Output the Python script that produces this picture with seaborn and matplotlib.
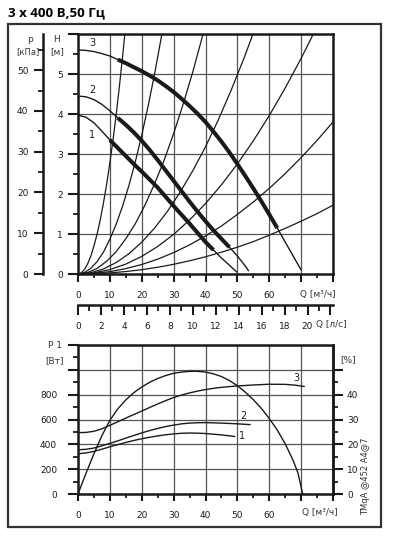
import numpy as np
import pandas as pd
import matplotlib
matplotlib.use('Agg')
import matplotlib.pyplot as plt
import seaborn as sns
from matplotlib.patches import Rectangle
from matplotlib.ticker import MultipleLocator, FuncFormatter

sns.set_theme(style='ticks')
plt.rcParams['font.family'] = ['Liberation Sans Narrow', 'DejaVu Sans']

# --- data ---
# pump curves H(Q), Q in m3/h, H in m
q1 = [0, 2.5, 5, 7.5, 10, 12.5, 15, 17.5, 20, 22.5, 25, 27.5, 30, 32.5, 35, 37.5, 40, 42.5, 45, 47.5, 49.8]
h1 = [3.97, 3.92, 3.78, 3.57, 3.35, 3.15, 2.95, 2.75, 2.56, 2.36, 2.16, 1.93, 1.7, 1.48, 1.26, 1.03, 0.8, 0.6, 0.4, 0.22, 0.05]
q2 = [0, 2.5, 5, 7.5, 10, 12.5, 15, 17.5, 20, 22.5, 25, 27.5, 30, 32.5, 35, 37.5, 40, 42.5, 45, 47.5, 50, 52.5, 53.5]
h2 = [4.45, 4.43, 4.36, 4.24, 4.08, 3.9, 3.73, 3.54, 3.33, 3.1, 2.85, 2.59, 2.33, 2.07, 1.81, 1.56, 1.32, 1.09, 0.88, 0.67, 0.45, 0.2, 0.08]
q3 = [0, 2.5, 5, 7.5, 10, 12.5, 15, 17.5, 20, 22.5, 25, 27.5, 30, 32.5, 35, 37.5, 40,
      42.5, 45, 47.5, 50, 52.5, 55, 57.5, 60, 62.5, 65, 67.5, 70]
h3 = [5.6, 5.59, 5.56, 5.51, 5.45, 5.36, 5.27, 5.17, 5.07, 4.96, 4.84, 4.7, 4.55, 4.38, 4.2, 4.01, 3.8,
      3.56, 3.31, 3.04, 2.75, 2.45, 2.14, 1.82, 1.49, 1.15, 0.8, 0.45, 0.1]
thick = {1: (10, 42.5), 2: (12.5, 47.5), 3: (12.5, 62.5)}

# system curves
sys_q = [
    [0, 1, 2, 3, 4, 5, 6, 7, 8, 9, 10, 11, 12, 13, 14, 14.7],
    [0, 2, 4, 6, 8, 10, 12, 14, 16, 18, 20, 22, 24, 26, 26.3],
    [0, 3, 6, 9, 12, 15, 18, 21, 24, 27, 30, 33, 36, 39, 39.2],
    [0, 4, 8, 12, 16, 20, 24, 28, 32, 36, 40, 44, 48, 52, 54.9],
    [0, 5, 10, 15, 20, 25, 30, 35, 40, 45, 50, 55, 60, 65, 70, 73.7],
    [0, 5, 10, 15, 20, 25, 30, 35, 40, 45, 50, 55, 60, 65, 70, 75, 80],
    [0, 5, 10, 15, 20, 25, 30, 35, 40, 45, 50, 55, 60, 65, 70, 75, 80],
]
sys_h = [
    [0, 0.028, 0.11, 0.25, 0.44, 0.7, 1.0, 1.36, 1.78, 2.25, 2.78, 3.36, 4.0, 4.7, 5.45, 6.0],
    [0, 0.035, 0.14, 0.31, 0.55, 0.87, 1.25, 1.7, 2.22, 2.81, 3.47, 4.2, 4.99, 5.86, 6.0],
    [0, 0.035, 0.14, 0.32, 0.56, 0.88, 1.26, 1.72, 2.25, 2.84, 3.51, 4.25, 5.05, 5.93, 6.0],
    [0, 0.032, 0.127, 0.287, 0.509, 0.796, 1.146, 1.56, 2.04, 2.58, 3.18, 3.85, 4.585, 5.38, 6.0],
    [0, 0.028, 0.11, 0.248, 0.44, 0.688, 0.99, 1.35, 1.76, 2.23, 2.75, 3.33, 3.96, 4.65, 5.39, 5.98],
    [0, 0.015, 0.059, 0.134, 0.238, 0.371, 0.535, 0.728, 0.95, 1.2, 1.49, 1.8, 2.14, 2.51, 2.91, 3.34, 3.8],
    [0, 0.007, 0.027, 0.061, 0.108, 0.168, 0.242, 0.33, 0.43, 0.545, 0.67, 0.81, 0.97, 1.14, 1.32, 1.51, 1.72],
]

# power P1 [W]
pq1 = [0, 2.5, 5, 7.5, 10, 12.5, 15, 17.5, 20, 22.5, 25, 27.5, 30, 32.5, 35, 37.5, 40, 45, 49.2]
p1 = [324, 331, 343, 361, 380, 398, 415, 431, 445, 457, 468, 477, 484, 489, 491, 490, 487, 476, 463]
pq2 = [0, 2.5, 5, 7.5, 10, 12.5, 15, 17.5, 20, 22.5, 25, 27.5, 30, 32.5, 35, 37.5, 40, 45, 50, 54]
p2 = [356, 360, 370, 388, 408, 428, 450, 471, 492, 511, 528, 543, 555, 565, 571, 574, 575, 571, 565, 559]
pq3 = [0, 2.5, 5, 7.5, 10, 12.5, 15, 17.5, 20, 22.5, 25, 27.5, 30, 32.5, 35, 37.5, 40,
       42.5, 45, 47.5, 50, 55, 60, 65, 68, 71]
p3 = [494, 496, 505, 525, 553, 582, 611, 640, 668, 697, 725, 752, 777, 797, 814, 829, 841,
      851, 859, 865, 870, 878, 884, 883, 877, 866]

# efficiency [%]
eq = [0, 2.5, 5, 7.5, 10, 12.5, 15, 17.5, 20, 22.5, 25, 27.5, 30, 32.5, 35, 37.5, 40,
      42.5, 45, 47.5, 50, 52.5, 55, 57.5, 60, 62.5, 65, 67.5, 69, 70.5]
eff = [0, 8.3, 16.2, 23.5, 29.7, 34.3, 37.9, 40.8, 43.1, 45, 46.5, 47.7, 48.6, 49.1, 49.4, 49.4, 49.1,
       48.4, 47.3, 45.7, 43.6, 41.0, 38.0, 34.5, 30.4, 25.8, 20.2, 13.5, 8.5, 0]

W, H = 397, 542


def frac(x0, y0, x1, y1):
    return [x0 / W, 1 - y1 / H, (x1 - x0) / W, (y1 - y0) / H]


fig = plt.figure(figsize=(W / 100, H / 100), dpi=100)
fig.patch.set_facecolor('white')
INK = '#1a1a1a'
GRID = '#555555'
FS = 6.5

fig.add_artist(Rectangle((8 / W, 1 - 527 / H), 373 / W, 503 / H, transform=fig.transFigure,
                         fill=False, lw=1.6, ec='#333333'))
fig.text(8 / W, 1 - 13 / H, '3 x 400 В,50 Гц', fontsize=9.5, weight='bold',
         family=['Open Sans', 'DejaVu Sans'], va='center', ha='left', color='black')


def style_axes(ax):
    for s in ax.spines.values():
        s.set_linewidth(1.8)
        s.set_color(INK)
    ax.grid(True, which='major', color=GRID, lw=0.9)
    ax.set_facecolor('none')


# ---------- top: H(Q) ----------
ax1 = fig.add_axes(frac(78, 34, 333, 274))
ax1.set_xlim(0, 80)
ax1.set_ylim(0, 6)
style_axes(ax1)

for qs, hs in zip(sys_q, sys_h):
    sns.lineplot(x=qs, y=hs, ax=ax1, color=INK, lw=0.9, estimator=None, sort=False)

for n, (qs, hs) in {1: (q1, h1), 2: (q2, h2), 3: (q3, h3)}.items():
    df = pd.DataFrame({'Q': qs, 'H': hs})
    sns.lineplot(data=df, x='Q', y='H', ax=ax1, color=INK, lw=1.0, estimator=None, sort=False)
    lo, hi = thick[n]
    part = df[(df.Q >= lo) & (df.Q <= hi)]
    sns.lineplot(data=part, x='Q', y='H', ax=ax1, color=INK, lw=2.9, estimator=None, sort=False,
                 solid_capstyle='butt')

for txt, hy in [('3', 5.77), ('2', 4.6), ('1', 3.47)]:
    ax1.text(4.4, hy, txt, fontsize=7, ha='center', va='center', color=INK)

ax1.set_xlabel('')
ax1.set_ylabel('')
ax1.xaxis.set_major_locator(MultipleLocator(10))
ax1.xaxis.set_minor_locator(MultipleLocator(5))
ax1.yaxis.set_major_locator(MultipleLocator(1))
ax1.yaxis.set_minor_locator(MultipleLocator(0.5))
ax1.xaxis.set_major_formatter(FuncFormatter(lambda v, p: f'{v:.0f}' if v <= 60 else ''))
ax1.yaxis.set_major_formatter(FuncFormatter(lambda v, p: f'{v:.0f}' if v <= 5 else ''))
ax1.tick_params(axis='x', which='major', length=6, width=1.5, pad=6, labelsize=FS, colors=INK)
ax1.tick_params(axis='x', which='minor', length=3, width=1.3, colors=INK)
ax1.tick_params(axis='y', which='major', length=7, width=1.5, pad=4, labelsize=FS, colors=INK)
ax1.tick_params(axis='y', which='minor', length=3.5, width=1.3, colors=INK)

# pressure axis on the far left
axp = ax1.twinx()
axp.set_ylim(0, 6 * 9.81)
for k in ['top', 'bottom', 'right']:
    axp.spines[k].set_visible(False)
axp.spines['left'].set_visible(True)
axp.spines['left'].set_position(('axes', -35 / 255))
axp.spines['left'].set_linewidth(1.8)
axp.spines['left'].set_color(INK)
axp.yaxis.tick_left()
axp.yaxis.set_major_locator(MultipleLocator(10))
axp.yaxis.set_minor_locator(MultipleLocator(5))
axp.yaxis.set_major_formatter(FuncFormatter(lambda v, p: f'{v:.0f}'))
axp.tick_params(axis='y', which='major', length=6.5, width=1.5, pad=4, labelsize=FS, colors=INK)
axp.tick_params(axis='y', which='minor', length=3.5, width=1.3, colors=INK)
axp.tick_params(axis='x', which='both', bottom=False, top=False, labelbottom=False, labeltop=False)

# l/s axis below
axl = ax1.secondary_xaxis(-31 / 240, functions=(lambda q: q / 3.6, lambda l: l * 3.6))
axl.spines['bottom'].set_linewidth(1.8)
axl.spines['bottom'].set_color(INK)
axl.xaxis.set_major_locator(MultipleLocator(2))
axl.xaxis.set_minor_locator(MultipleLocator(1))
axl.xaxis.set_major_formatter(FuncFormatter(lambda v, p: f'{v:.0f}' if v <= 20 else ''))
axl.tick_params(axis='x', which='major', length=7, width=1.5, pad=5, labelsize=FS, colors=INK)
axl.tick_params(axis='x', which='minor', length=4, width=1.3, colors=INK)

fig.text(30 / W, 1 - 40 / H, 'p', fontsize=FS, ha='center', va='center', color='#333')
fig.text(28 / W, 1 - 52 / H, '[кПа]', fontsize=6, ha='center', va='center', color='#333')
fig.text(57 / W, 1 - 39 / H, 'H', fontsize=FS, ha='center', va='center', color='#333')
fig.text(57 / W, 1 - 52 / H, '[м]', fontsize=FS, ha='center', va='center', color='#333')
fig.text(318 / W, 1 - 295 / H, 'Q [м³/ч]', fontsize=FS, ha='center', va='center', color='#333')
fig.text(331 / W, 1 - 325 / H, 'Q [л/с]', fontsize=FS, ha='center', va='center', color='#333')

# ---------- bottom: P1(Q), eta(Q) ----------
ax2 = fig.add_axes(frac(78, 345, 333, 494))
ax2.set_xlim(0, 80)
ax2.set_ylim(0, 1200)
style_axes(ax2)

for qs, ps in [(pq1, p1), (pq2, p2), (pq3, p3)]:
    sns.lineplot(x=qs, y=ps, ax=ax2, color=INK, lw=1.0, estimator=None, sort=False)

for txt, qx, py in [('1', 51.3, 467), ('2', 51.8, 630), ('3', 68.4, 934)]:
    ax2.text(qx, py, txt, fontsize=7, ha='center', va='center', color=INK)

ax2.set_xlabel('')
ax2.set_ylabel('')
ax2.xaxis.set_major_locator(MultipleLocator(10))
ax2.xaxis.set_minor_locator(MultipleLocator(5))
ax2.yaxis.set_major_locator(MultipleLocator(200))
ax2.yaxis.set_minor_locator(MultipleLocator(100))
ax2.xaxis.set_major_formatter(FuncFormatter(lambda v, p: f'{v:.0f}' if v <= 60 else ''))
ax2.yaxis.set_major_formatter(FuncFormatter(lambda v, p: f'{v:.0f}' if v <= 800 else ''))
ax2.tick_params(axis='x', which='major', length=5, width=1.5, pad=7, labelsize=FS, colors=INK)
ax2.tick_params(axis='x', which='minor', length=3, width=1.3, colors=INK)
ax2.tick_params(axis='y', which='major', length=7, width=1.5, pad=8, labelsize=FS, colors=INK)
ax2.tick_params(axis='y', which='minor', length=3.5, width=1.3, colors=INK)

ax2r = ax2.twinx()
ax2r.set_ylim(0, 60)
sns.lineplot(x=eq, y=eff, ax=ax2r, color=INK, lw=1.0, estimator=None, sort=False)
ax2r.set_ylabel('')
for k in ['top', 'bottom', 'left']:
    ax2r.spines[k].set_visible(False)
ax2r.spines['right'].set_linewidth(1.8)
ax2r.spines['right'].set_color(INK)
ax2r.set_yticks(range(0, 51, 10))
ax2r.set_yticks(range(5, 50, 10), minor=True)
ax2r.set_yticklabels(['0', '10', '20', '30', '40', ''])
ax2r.tick_params(axis='y', which='major', length=7, width=1.5, pad=3, labelsize=FS, colors=INK)
ax2r.tick_params(axis='y', which='minor', length=3.5, width=1.3, colors=INK)
ax2r.tick_params(axis='x', which='both', bottom=False, top=False, labelbottom=False, labeltop=False)

fig.text(55 / W, 1 - 346 / H, 'P 1', fontsize=FS, ha='center', va='center', color='#333')
fig.text(55 / W, 1 - 361 / H, '[Вт]', fontsize=FS, ha='center', va='center', color='#333')
fig.text(348 / W, 1 - 360 / H, '[%]', fontsize=FS, ha='center', va='center', color='#333')
fig.text(320 / W, 1 - 513 / H, 'Q [м³/ч]', fontsize=FS, ha='center', va='center', color='#333')
fig.text(366 / W, 1 - 476 / H, 'TMqA @452 A4@7', fontsize=6, rotation=90,
         ha='center', va='center', color='#333')

fig.savefig('out.png', dpi=100, facecolor='white')
